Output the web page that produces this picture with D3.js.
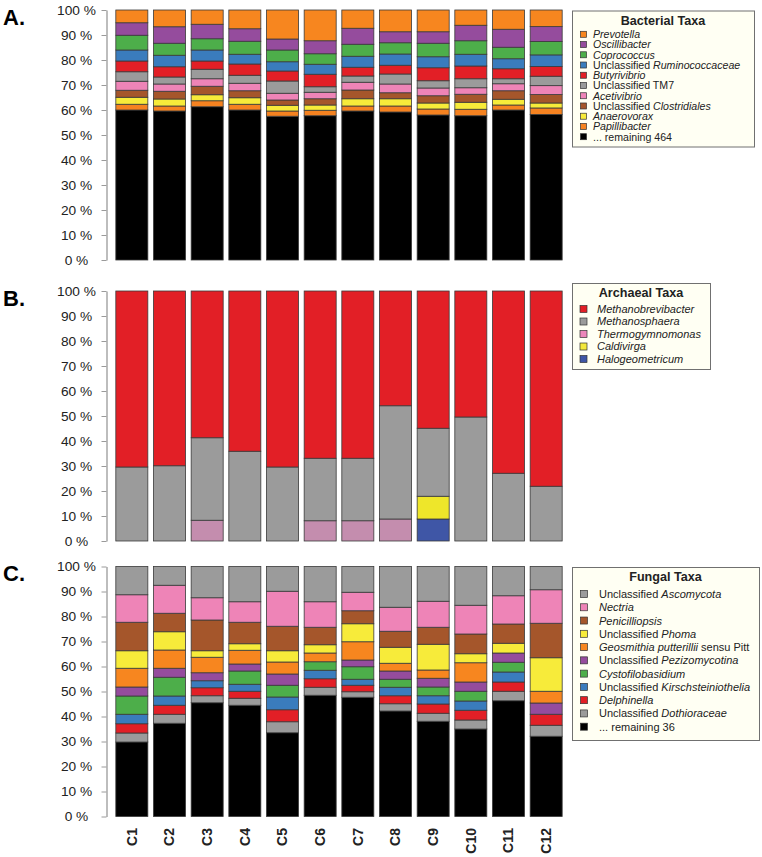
<!DOCTYPE html>
<html>
<head>
<meta charset="utf-8">
<script src="https://cdn.jsdelivr.net/npm/d3@7"></script>
<style>
  html, body { margin: 0; padding: 0; background: #fff; }
  svg { display: block; font-family: "Liberation Sans", Arial, sans-serif; }
</style>
</head>
<body>
<svg id="chart" width="762" height="857"></svg>
<script>
// ---------- DATA ----------
const categories = ["C1","C2","C3","C4","C5","C6","C7","C8","C9","C10","C11","C12"];
const tickValues = [0,10,20,30,40,50,60,70,80,90,100];

// Panel A (legend order, top to bottom); '*' marks italic
const bacterialTaxa = ["*Prevotella*","*Oscillibacter*","*Coprococcus*","Unclassified *Ruminococcaceae*",
  "*Butyrivibrio*","Unclassified TM7","*Acetivibrio*","Unclassified *Clostridiales*","*Anaerovorax*",
  "*Papillibacter*","... remaining 464"];
const bacterialColors = ["#F7861F","#954C9D","#4DAE4A","#3A7CBD","#E21F26","#9B9B9B","#EE84B7",
  "#A5562B","#F7EB3A","#F58220","#000000"];
const bacterialValues = [
  [5.1,6.7,5.7,7.5,11.6,12.3,7.3,8.7,8.7,6.1,7.7,6.7],
  [5.0,6.6,5.8,5.0,4.4,5.2,6.4,4.4,4.6,6.2,7.2,6.0],
  [5.9,4.8,4.5,5.2,4.7,4.2,4.8,4.5,5.4,5.4,4.6,5.4],
  [4.4,4.6,4.4,3.9,3.7,4.0,4.4,4.5,4.4,4.7,4.0,4.7],
  [4.3,4.1,3.3,4.5,4.0,5.0,3.5,3.5,5.2,5.1,4.0,3.9],
  [3.8,2.8,3.8,3.2,4.9,2.2,2.5,4.0,2.9,3.6,2.0,3.8],
  [3.6,2.9,3.0,3.0,2.7,2.6,3.1,3.5,3.1,2.6,2.8,3.6],
  [2.8,3.1,3.4,2.8,2.1,2.5,3.5,2.4,2.9,3.2,3.4,3.4],
  [2.8,2.8,2.4,2.6,2.3,2.1,2.9,2.9,2.4,2.8,2.3,2.0],
  [2.3,2.0,2.4,2.3,2.1,2.2,2.0,2.4,2.4,2.6,2.0,2.6],
  [60.0,59.6,61.3,60.0,57.5,57.7,59.6,59.2,58.0,57.7,60.0,58.7]
];

// Panel B
const archaealTaxa = ["*Methanobrevibacter*","*Methanosphaera*","*Thermogymnomonas*","*Caldivirga*","*Halogeometricum*"];
const archaealColors = ["#E21F26","#9B9B9B","#C48DAE","#EEE62A","#3F56A6"];
const archaealLegendColors = ["#E21F26","#9B9B9B","#EC86BA","#F3E83A","#3F56A6"];
const archaealValues = [
  [70.4,69.9,58.7,64.1,70.4,66.9,66.9,45.9,54.9,50.4,72.9,78.1],
  [29.6,30.1,33.0,35.9,29.6,25.0,25.0,45.3,27.2,49.6,27.1,21.9],
  [0,0,8.3,0,0,8.1,8.1,8.8,0,0,0,0],
  [0,0,0,0,0,0,0,0,9.1,0,0,0],
  [0,0,0,0,0,0,0,0,8.8,0,0,0]
];

// Panel C
const fungalTaxa = ["Unclassified *Ascomycota*","*Nectria*","*Penicilliopsis*","Unclassified *Phoma*",
  "*Geosmithia putterillii* sensu Pitt","Unclassified *Pezizomycotina*","*Cystofilobasidium*",
  "Unclassified *Kirschsteiniothelia*","*Delphinella*","Unclassified *Dothioraceae*","... remaining 36"];
const fungalColors = ["#9B9B9B","#EE84B7","#A5562B","#F7EB3A","#F7861F","#954C9D","#4DAE4A",
  "#3A7CBD","#E21F26","#9B9B9B","#000000"];
const fungalValues = [
  [11.3,7.5,12.5,14.1,9.9,14.1,10.3,16.3,13.9,15.5,11.7,9.3],
  [11.0,11.2,8.9,8.2,14.0,10.2,7.4,9.6,10.4,11.5,11.3,13.4],
  [11.4,7.4,12.3,8.6,9.8,7.0,5.2,6.4,6.8,7.9,7.7,13.8],
  [7.0,7.3,2.6,2.6,4.5,3.3,7.2,6.4,10.3,3.6,3.9,13.4],
  [7.5,7.3,6.2,5.5,4.8,3.5,7.3,3.1,3.3,7.7,0,4.7],
  [3.6,3.6,3.2,2.8,4.5,0,2.7,3.3,3.5,3.7,3.7,4.5],
  [7.3,7.5,0,5.3,4.7,3.4,5.0,3.2,3.5,3.9,3.9,0],
  [3.8,3.7,2.8,2.8,5.1,3.4,2.4,3.4,3.3,3.7,4.0,0],
  [3.7,3.6,3.2,2.8,4.8,3.4,2.6,3.2,3.7,3.9,3.7,4.4],
  [3.6,3.6,2.8,2.8,4.4,3.2,2.2,2.9,3.2,3.6,3.8,4.4],
  [29.8,37.3,45.5,44.5,33.5,48.5,47.7,42.2,38.1,35.0,46.3,32.1]
];

// ---------- DRAWING ----------
const svg = d3.select("#chart");
const x = d3.scaleBand().domain(categories).range([113, 565]).paddingInner(0.15).paddingOuter(0.075);

function richText(sel, label) {
  const parts = label.split("*");
  parts.forEach((p, i) => {
    if (!p) return;
    sel.append("tspan").text(p).attr("font-style", i % 2 === 1 ? "italic" : "normal");
  });
}

function drawPanel(cfg) {
  const g = svg.append("g");
  const y = d3.scaleLinear().domain([0, 100]).range([cfg.y0, cfg.y100]);
  const n = cfg.taxa.length;
  const keys = d3.range(n).reverse(); // bottom-to-top
  const rows = categories.map((c, ci) => {
    const r = { cat: c };
    keys.forEach(k => r[k] = cfg.values[k][ci]);
    return r;
  });
  const stacked = d3.stack().keys(keys).offset(d3.stackOffsetExpand)(rows);

  g.selectAll("g.layer").data(stacked).join("g")
    .attr("class", "layer")
    .attr("fill", d => cfg.colors[d.key])
    .selectAll("rect").data(d => d.filter(p => p[1] - p[0] > 0)).join("rect")
    .attr("x", d => x(d.data.cat))
    .attr("width", x.bandwidth())
    .attr("y", d => y(d[1] * 100))
    .attr("height", d => y(d[0] * 100) - y(d[1] * 100))
    .attr("stroke", "#3a3a3a")
    .attr("stroke-width", 0.8);

  const axis = d3.axisLeft(y).tickValues(tickValues).tickSize(5).tickSizeOuter(0)
    .tickFormat(d => d + " %");
  const ag = g.append("g").attr("transform", "translate(106.5,0)").call(axis);
  ag.select(".domain").attr("stroke", "#9a9a9a").attr("stroke-width", 1.3);
  ag.selectAll(".tick line").attr("stroke", "#9a9a9a");
  ag.selectAll(".tick text").attr("x", -30).attr("text-anchor", "middle")
    .attr("font-size", "13.7px").attr("fill", "#222")
    .attr("font-family", "'Liberation Sans', Arial, sans-serif");

  g.append("text").attr("x", 3).attr("y", cfg.y100 + 14.5)
    .attr("font-size", "22px").attr("font-weight", "bold").attr("fill", "#000").text(cfg.letter);

  const L = cfg.legend;
  const lg = g.append("g");
  lg.append("rect").attr("x", L.x0 + 0.5).attr("y", L.y0 + 0.5)
    .attr("width", L.x1 - L.x0).attr("height", L.y1 - L.y0)
    .attr("fill", "#FFFFF3").attr("stroke", "#707070").attr("stroke-width", 1);
  lg.append("text").attr("x", (L.x0 + L.x1) / 2).attr("y", L.titleY)
    .attr("text-anchor", "middle").attr("font-weight", "bold").attr("font-size", "12.6px")
    .attr("fill", "#222").text(cfg.title);
  const items = lg.selectAll("g.item").data(cfg.taxa).join("g").attr("class", "item")
    .attr("transform", (d, i) => `translate(0,${L.itemY + i * L.step})`);
  items.append("rect").attr("x", L.swX).attr("y", -L.sw / 2).attr("width", L.sw).attr("height", L.sw)
    .attr("fill", (d, i) => (cfg.legendColors || cfg.colors)[i])
    .attr("stroke", "#333").attr("stroke-width", 0.7);
  items.append("text").attr("x", L.textX).attr("y", L.fs * 0.36).attr("font-size", L.fs + "px").attr("fill", "#222")
    .each(function(d) { richText(d3.select(this), d); });
}

drawPanel({
  letter: "A.", y0: 260, y100: 10, taxa: bacterialTaxa, colors: bacterialColors, values: bacterialValues,
  title: "Bacterial Taxa",
  legend: { x0: 572, x1: 754, y0: 10.5, y1: 146.5, titleY: 25, itemY: 34.3, step: 10.24, swX: 580.5, sw: 6, textX: 593, fs: 10.6 }
});
drawPanel({
  letter: "B.", y0: 541, y100: 291, taxa: archaealTaxa, colors: archaealColors, legendColors: archaealLegendColors,
  values: archaealValues, title: "Archaeal Taxa",
  legend: { x0: 572, x1: 710, y0: 283, y1: 369, titleY: 297, itemY: 309, step: 12.5, swX: 580, sw: 7, textX: 597, fs: 11 }
});
drawPanel({
  letter: "C.", y0: 816.5, y100: 566.5, taxa: fungalTaxa, colors: fungalColors, values: fungalValues,
  title: "Fungal Taxa",
  legend: { x0: 572, x1: 759, y0: 567, y1: 740, titleY: 580.5, itemY: 594, step: 13.27, swX: 580.5, sw: 7, textX: 599, fs: 11 }
});

svg.append("g").selectAll("text").data(categories).join("text")
  .attr("transform", d => `translate(${x(d) + x.bandwidth() / 2},828) rotate(-90)`)
  .attr("text-anchor", "end").attr("dy", "0.35em")
  .attr("font-size", "14px").attr("font-weight", "bold").attr("fill", "#222")
  .text(d => d);
</script>
</body>
</html>
